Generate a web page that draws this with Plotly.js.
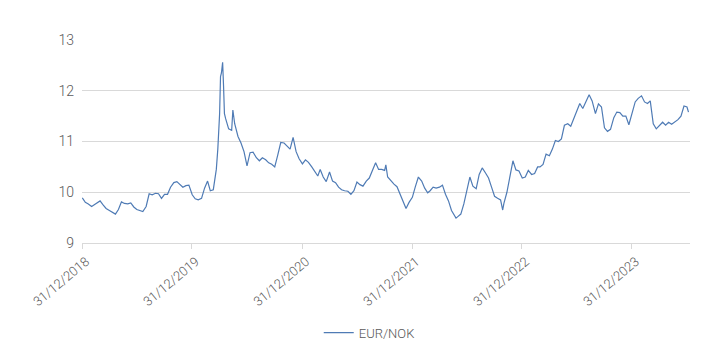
<!DOCTYPE html>
<html>
<head>
<meta charset="utf-8">
<script src="https://cdn.plot.ly/plotly-3.0.1.min.js"></script>
<style>
html, body { margin: 0; padding: 0; background: #ffffff; }
#chart { width: 724px; height: 354px; }
</style>
</head>
<body>
<div id="chart"></div>
<script>
// Dates (sampled roughly every 10 days, with extra points around the 2020 spike)
const dates = [
  "2019-01-01","2019-01-11","2019-01-21","2019-02-01","2019-02-11","2019-02-21","2019-03-01","2019-03-11","2019-03-21",
  "2019-04-01","2019-04-11","2019-04-21","2019-05-01","2019-05-11","2019-05-21","2019-06-01","2019-06-11","2019-06-21",
  "2019-07-01","2019-07-11","2019-07-21","2019-08-01","2019-08-11","2019-08-21","2019-09-01","2019-09-11","2019-09-21",
  "2019-10-01","2019-10-11","2019-10-21","2019-11-01","2019-11-11","2019-11-21","2019-12-01","2019-12-11","2019-12-21",
  "2020-01-01","2020-01-11","2020-01-21","2020-02-01","2020-02-11","2020-02-21","2020-03-01","2020-03-11","2020-03-21","2020-03-26",
  "2020-04-01","2020-04-04","2020-04-07","2020-04-11","2020-04-14","2020-04-17","2020-04-21",
  "2020-05-01","2020-05-11","2020-05-15","2020-05-21","2020-06-01","2020-06-11","2020-06-21",
  "2020-07-01","2020-07-11","2020-07-21","2020-08-01","2020-08-11","2020-08-21","2020-09-01","2020-09-11","2020-09-21",
  "2020-10-01","2020-10-11","2020-10-21","2020-11-01","2020-11-11","2020-11-21","2020-12-01","2020-12-11","2020-12-21",
  "2021-01-01","2021-01-11","2021-01-21","2021-02-01","2021-02-11","2021-02-21","2021-03-01","2021-03-11","2021-03-21",
  "2021-04-01","2021-04-11","2021-04-21","2021-05-01","2021-05-11","2021-05-21","2021-06-01","2021-06-11","2021-06-21",
  "2021-07-01","2021-07-11","2021-07-21","2021-08-01","2021-08-11","2021-08-21","2021-09-01","2021-09-11","2021-09-21",
  "2021-10-01","2021-10-05","2021-10-11","2021-10-21","2021-11-01","2021-11-11","2021-11-21","2021-12-01","2021-12-11","2021-12-21",
  "2022-01-01","2022-01-11","2022-01-21","2022-02-01","2022-02-11","2022-02-21","2022-03-01","2022-03-11","2022-03-21",
  "2022-04-01","2022-04-11","2022-04-21","2022-05-01","2022-05-11","2022-05-21","2022-05-26","2022-06-01","2022-06-11","2022-06-21",
  "2022-07-01","2022-07-11","2022-07-21","2022-08-01","2022-08-11","2022-08-21","2022-09-01","2022-09-11","2022-09-21",
  "2022-10-01","2022-10-11","2022-10-21","2022-10-28","2022-11-01","2022-11-11","2022-11-21","2022-12-01","2022-12-11","2022-12-21",
  "2023-01-01","2023-01-11","2023-01-21","2023-02-01","2023-02-11","2023-02-21","2023-03-01","2023-03-11","2023-03-21",
  "2023-04-01","2023-04-11","2023-04-21","2023-05-01","2023-05-11","2023-05-21","2023-06-01","2023-06-11","2023-06-21",
  "2023-07-01","2023-07-11","2023-07-21","2023-08-01","2023-08-11","2023-08-21","2023-09-01","2023-09-11","2023-09-21",
  "2023-10-01","2023-10-11","2023-10-21","2023-11-01","2023-11-11","2023-11-21","2023-12-01","2023-12-11","2023-12-21",
  "2024-01-01","2024-01-11","2024-01-21","2024-02-01","2024-02-11","2024-02-21","2024-03-01","2024-03-11","2024-03-21",
  "2024-04-01","2024-04-11","2024-04-21","2024-05-01","2024-05-11","2024-05-21","2024-06-01","2024-06-11","2024-06-21",
  "2024-07-01","2024-07-06"
];

// EUR/NOK values
const eurNok = [
  9.89, 9.80, 9.77, 9.72, 9.76, 9.79, 9.83, 9.75, 9.68,
  9.64, 9.61, 9.57, 9.66, 9.81, 9.78, 9.77, 9.79, 9.71,
  9.66, 9.64, 9.62, 9.72, 9.97, 9.95, 9.98, 9.97, 9.88,
  9.96, 9.96, 10.10, 10.19, 10.21, 10.15, 10.10, 10.13, 10.14,
  9.95, 9.87, 9.85, 9.88, 10.08, 10.22, 10.03, 10.05, 10.45, 10.85,
  11.55, 12.28, 12.35, 12.56, 12.10, 11.55, 11.45,
  11.25, 11.22, 11.62, 11.35, 11.10, 10.97, 10.80,
  10.52, 10.78, 10.79, 10.68, 10.62, 10.68, 10.64, 10.58, 10.55,
  10.50, 10.73, 10.98, 10.97, 10.90, 10.85, 11.08, 10.80, 10.66,
  10.56, 10.64, 10.59, 10.50, 10.42, 10.32, 10.45, 10.30, 10.21,
  10.40, 10.22, 10.19, 10.10, 10.05, 10.03, 10.02, 9.96, 10.03,
  10.20, 10.15, 10.12, 10.22, 10.28, 10.43, 10.58, 10.45, 10.45,
  10.43, 10.54, 10.30, 10.23, 10.16, 10.11, 9.97, 9.82, 9.68, 9.80,
  9.90, 10.11, 10.30, 10.22, 10.08, 9.99, 10.03, 10.10, 10.08,
  10.10, 10.14, 9.96, 9.83, 9.64, 9.55, 9.49, 9.52, 9.57, 9.77,
  10.05, 10.30, 10.12, 10.07, 10.35, 10.48, 10.38, 10.28, 10.10,
  9.92, 9.88, 9.85, 9.65, 9.78, 10.00, 10.28, 10.62, 10.44, 10.42,
  10.28, 10.30, 10.43, 10.35, 10.37, 10.50, 10.50, 10.55, 10.75,
  10.72, 10.85, 11.02, 11.00, 11.05, 11.32, 11.35, 11.30, 11.45,
  11.60, 11.75, 11.65, 11.78, 11.92, 11.80, 11.55, 11.74, 11.68,
  11.27, 11.20, 11.24, 11.47, 11.58, 11.57, 11.50, 11.50, 11.33,
  11.55, 11.78, 11.85, 11.90, 11.78, 11.75, 11.80, 11.35, 11.25,
  11.32, 11.38, 11.32, 11.38, 11.34, 11.38, 11.43, 11.50, 11.70,
  11.68, 11.58
];

const tickDates = ["2018-12-31","2019-12-31","2020-12-31","2021-12-31","2022-12-31","2023-12-31"];
const tickLabels = ["31/12/2018","31/12/2019","31/12/2020","31/12/2021","31/12/2022","31/12/2023"];
const yTicks = [9, 10, 11, 12, 13];

const fontFam = "Roboto, 'Liberation Sans', sans-serif";

const trace = {
  x: dates,
  y: eurNok,
  type: "scatter",
  mode: "lines",
  name: "EUR/NOK",
  line: { color: "#4f7bb5", width: 1.2 }
};

const layout = {
  width: 724,
  height: 354,
  margin: { l: 82, r: 34, t: 40, b: 111 },
  paper_bgcolor: "#ffffff",
  plot_bgcolor: "#ffffff",
  showlegend: true,
  legend: {
    orientation: "h",
    xref: "container", yref: "container",
    x: 0.51, xanchor: "center",
    y: 0.06, yanchor: "middle",
    font: { family: fontFam, size: 13, color: "#595959", weight: 300 }
  },
  xaxis: {
    type: "date",
    range: ["2018-12-31", "2024-07-11"],
    tickmode: "array",
    tickvals: tickDates,
    ticktext: tickLabels,
    tickangle: -40,
    ticks: "outside",
    ticklen: 5,
    tickcolor: "#d9d9d9",
    showline: true,
    linecolor: "#d9d9d9",
    linewidth: 1,
    showgrid: false,
    zeroline: false,
    ticklabelshift: 4,
    tickfont: { family: fontFam, size: 13, color: "#595959", weight: 300 }
  },
  yaxis: {
    range: [9, 13],
    tickmode: "array",
    tickvals: yTicks,
    showgrid: true,
    gridcolor: "#d9d9d9",
    gridwidth: 1,
    zeroline: false,
    showline: false,
    ticks: "",
    ticklabelstandoff: 7,
    tickfont: { family: fontFam, size: 14, color: "#595959", weight: 300 }
  }
};

Plotly.newPlot("chart", [trace], layout, { displayModeBar: false, staticPlot: true });
</script>
</body>
</html>
